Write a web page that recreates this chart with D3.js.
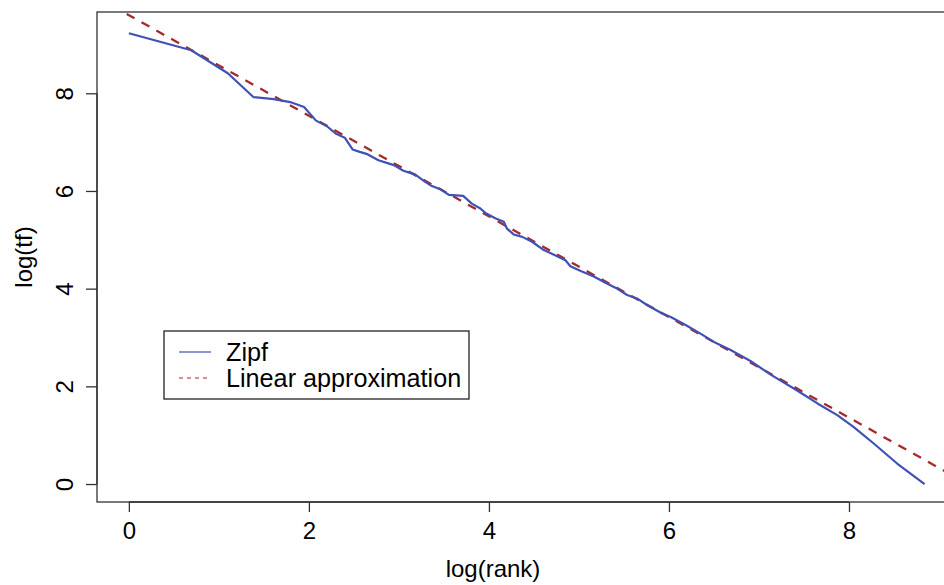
<!DOCTYPE html>
<html>
<head>
<meta charset="utf-8">
<script src="https://cdn.jsdelivr.net/npm/d3@7"></script>
<style>
  html, body { margin: 0; padding: 0; background: #fff; }
  svg { display: block; font-family: "Liberation Sans", Arial, Helvetica, sans-serif; }
</style>
</head>
<body>
<svg id="chart" width="944" height="585"></svg>
<script>
// ---- data ----
const logRank = [0, 0.693, 1.099, 1.386, 1.609, 1.792, 1.946, 2.079, 2.197, 2.303, 2.398, 2.485, 2.565, 2.639, 2.773, 2.890, 2.944, 3.045, 3.091, 3.178, 3.296, 3.367, 3.466, 3.555, 3.714, 3.81, 3.905, 3.96, 4.07, 4.165, 4.20, 4.275, 4.37, 4.48, 4.61, 4.74, 4.85, 4.905, 5.02, 5.165, 5.295, 5.405, 5.535, 5.645, 5.76, 5.925, 6.02, 6.2, 6.35, 6.5, 6.68, 6.905, 7.13, 7.42, 7.65, 7.87, 8.05, 8.275, 8.535, 8.84];
const logTf = [9.23, 8.88, 8.41, 7.92, 7.88, 7.82, 7.72, 7.44, 7.33, 7.17, 7.09, 6.85, 6.80, 6.76, 6.63, 6.56, 6.53, 6.42, 6.39, 6.34, 6.18, 6.10, 6.03, 5.92, 5.90, 5.74, 5.64, 5.55, 5.44, 5.37, 5.23, 5.11, 5.06, 4.96, 4.79, 4.68, 4.58, 4.46, 4.36, 4.25, 4.12, 4.02, 3.87, 3.80, 3.66, 3.49, 3.42, 3.24, 3.08, 2.91, 2.75, 2.52, 2.24, 1.92, 1.65, 1.41, 1.17, 0.83, 0.42, 0.00];
const fitIntercept = 9.6;
const fitSlope = -1.03;
const xTicks = [0, 2, 4, 6, 8];
const yTicks = [0, 2, 4, 6, 8];
const legendLabels = ["Zipf", "Linear approximation"];

// ---- layout ----
const svg = d3.select("#chart");
const pL = 97, pR = 957, pT = 12, pB = 502;
const x = d3.scaleLinear().domain([-0.354, 9.2]).range([pL, pR]);
const y = d3.scaleLinear().domain([-0.368, 9.664]).range([pB, pT]);
const blue = "#3f51b5", red = "#a52a2a", axisCol = "#333";

svg.append("defs").append("clipPath").attr("id", "plotclip")
  .append("rect").attr("x", pL).attr("y", pT).attr("width", pR - pL).attr("height", pB - pT);

// fitted line (clipped to plot region)
const xd = x.domain();
svg.append("line")
  .attr("clip-path", "url(#plotclip)")
  .attr("x1", x(xd[0])).attr("y1", y(fitIntercept + fitSlope * xd[0]))
  .attr("x2", x(xd[1])).attr("y2", y(fitIntercept + fitSlope * xd[1]))
  .attr("stroke", red).attr("stroke-width", 2.3).attr("stroke-dasharray", "9,8");

// Zipf line
const pts = logRank.map((r, i) => [r, logTf[i]]);
svg.append("path")
  .datum(pts)
  .attr("fill", "none")
  .attr("stroke", blue)
  .attr("stroke-width", 2.2)
  .attr("stroke-linejoin", "round")
  .attr("d", d3.line().x(d => x(d[0])).y(d => y(d[1])));

// box
svg.append("rect").attr("x", pL).attr("y", pT).attr("width", pR - pL).attr("height", pB - pT)
  .attr("fill", "none").attr("stroke", axisCol).attr("stroke-width", 1.3);

// x axis
const gx = svg.append("g").attr("transform", `translate(0,${pB})`)
  .call(d3.axisBottom(x).tickValues(xTicks).tickFormat(d3.format("d")).tickSize(10).tickSizeOuter(0).tickPadding(10));
gx.select(".domain").remove();
gx.append("line").attr("x1", x(xTicks[0])).attr("x2", x(xTicks[xTicks.length - 1]))
  .attr("stroke", axisCol).attr("stroke-width", 1.3);
gx.selectAll(".tick line").attr("stroke", axisCol).attr("stroke-width", 1.3);
gx.selectAll(".tick text").attr("font-size", 24).attr("fill", "#000")
  .attr("font-family", "Liberation Sans, Arial, sans-serif");

// y axis
const gy = svg.append("g").attr("transform", `translate(${pL},0)`)
  .call(d3.axisLeft(y).tickValues(yTicks).tickFormat(d3.format("d")).tickSize(11).tickSizeOuter(0));
gy.select(".domain").remove();
gy.append("line").attr("y1", y(yTicks[0])).attr("y2", y(yTicks[yTicks.length - 1]))
  .attr("stroke", axisCol).attr("stroke-width", 1.3);
gy.selectAll(".tick line").attr("stroke", axisCol).attr("stroke-width", 1.3);
gy.selectAll(".tick text")
  .attr("x", null).attr("dy", null)
  .attr("text-anchor", "middle")
  .attr("transform", "translate(-24.5,0) rotate(-90)")
  .attr("font-size", 24).attr("fill", "#000")
  .attr("font-family", "Liberation Sans, Arial, sans-serif");

// axis titles
svg.append("text").attr("x", 493).attr("y", 577).attr("text-anchor", "middle")
  .attr("font-size", 24).attr("fill", "#000").text("log(rank)");
svg.append("text").attr("transform", `translate(32,${(pT + pB) / 2}) rotate(-90)`)
  .attr("text-anchor", "middle").attr("font-size", 24).attr("fill", "#000").text("log(tf)");

// legend
const lg = svg.append("g");
lg.append("rect").attr("x", 164).attr("y", 331).attr("width", 305).attr("height", 68)
  .attr("fill", "#fff").attr("stroke", "#222").attr("stroke-width", 1.3);
const styles = [{c: blue, dash: null}, {c: red, dash: "4,4"}];
legendLabels.forEach((lab, i) => {
  const ly = 352 + i * 26;
  lg.append("line").attr("x1", 179).attr("x2", 211).attr("y1", ly).attr("y2", ly)
    .attr("stroke", styles[i].c).attr("stroke-width", 1.2)
    .attr("stroke-dasharray", styles[i].dash);
  lg.append("text").attr("x", 226).attr("y", ly + 8.5).attr("font-size", 25.2).attr("fill", "#000").text(lab);
});
</script>
</body>
</html>
